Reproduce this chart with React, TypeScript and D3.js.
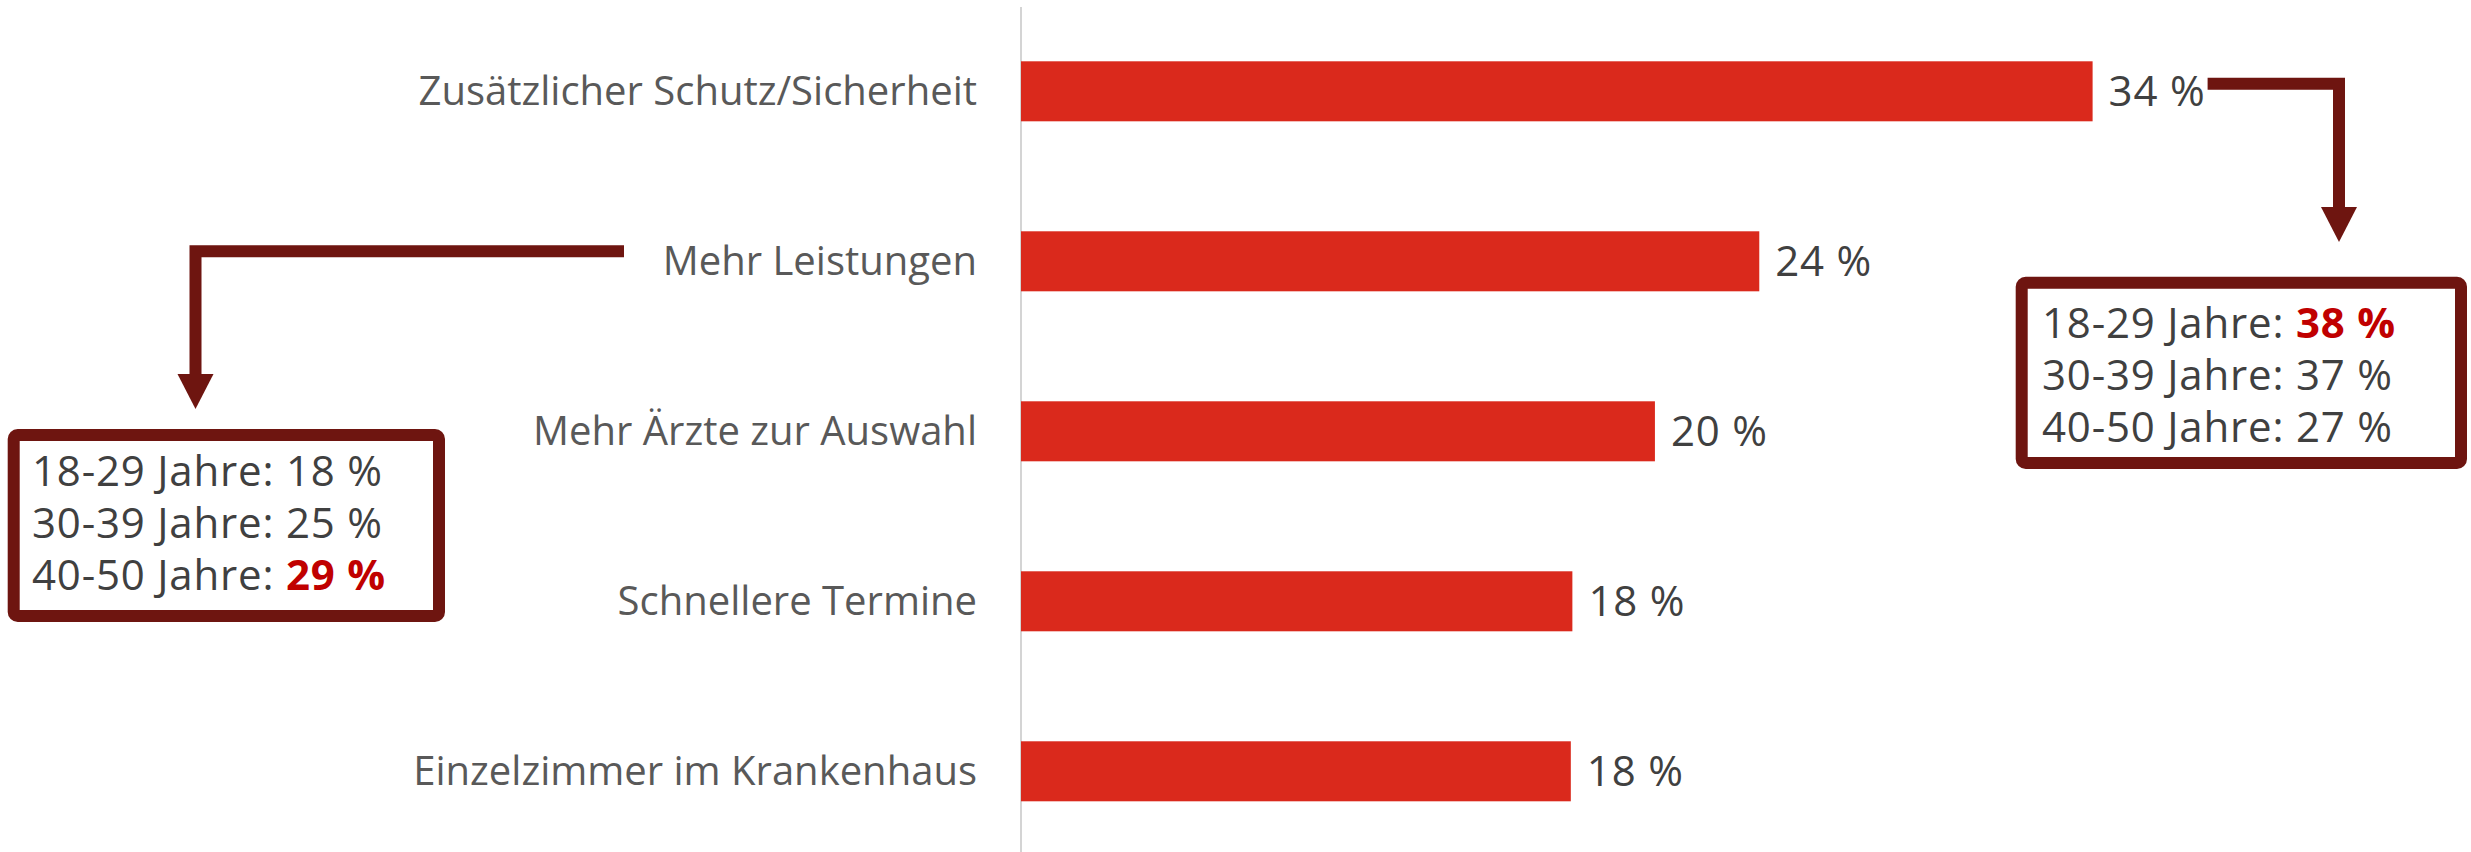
import React from "react";
import { scaleLinear, scaleBand } from "d3";

const categories = [
  "Zusätzlicher Schutz/Sicherheit",
  "Mehr Leistungen",
  "Mehr Ärzte zur Auswahl",
  "Schnellere Termine",
  "Einzelzimmer im Krankenhaus",
];
const values = [34.4, 23.7, 20.35, 17.7, 17.65]; // percent

const ageGroups = ["18-29 Jahre", "30-39 Jahre", "40-50 Jahre"];
const schutzByAge = [38, 37, 27]; // right callout
const leistungenByAge = [18, 25, 29]; // left callout

const W = 2471;
const H = 852;
const axisX = 1021;
const font = "'Open Sans', sans-serif";

const x = scaleLinear().domain([0, 34.4]).range([axisX, 2092.6]);
const y = scaleBand<string>()
  .domain(categories)
  .range([61.3, 801.3])
  .paddingInner(0.647)
  .paddingOuter(0);

const pct = (v: number) => `${Math.round(v)} %`;

const Callout = ({ bx, by, bw, bh, tx, ty, data }: any) => {
  const maxV = Math.max(...data);
  return (
    <g>
      <rect x={bx} y={by} width={bw} height={bh} rx={4} fill="#fff" stroke="#6e1510" strokeWidth={12} />
      {ageGroups.map((g, i) => (
        <text key={g} x={tx} y={ty + i * 52} fontFamily={font} fontSize={42} letterSpacing={0.8} fill="#404040">
          {g}:{" "}
          <tspan fill={data[i] === maxV ? "#c00000" : "#404040"} fontWeight={data[i] === maxV ? 700 : 400}>
            {data[i]} %
          </tspan>
        </text>
      ))}
    </g>
  );
};

export default function App() {
  const c0 = y(categories[0])! + y.bandwidth() / 2;
  const c1 = y(categories[1])! + y.bandwidth() / 2;
  return (
    <svg width={W} height={H} style={{ position: "absolute", left: 0, top: 0, display: "block" }}>
      <rect width={W} height={H} fill="#fff" />
      <line x1={axisX} x2={axisX} y1={7} y2={H} stroke="#d4d4d4" strokeWidth={2} />
      {categories.map((c, i) => {
        const cy = y(c)! + y.bandwidth() / 2;
        return (
          <g key={c}>
            <rect x={x(0)} y={y(c)} width={x(values[i]) - x(0)} height={y.bandwidth()} fill="#da291c" />
            <text x={977} y={cy + 14} textAnchor="end" fontFamily={font} fontSize={40} fill="#595959">
              {c}
            </text>
            <text x={x(values[i]) + 16} y={cy + 15} fontFamily={font} fontSize={42} letterSpacing={0.8} fill="#404040">
              {pct(values[i])}
            </text>
          </g>
        );
      })}

      {/* right callout: Schutz/Sicherheit by age */}
      <path d={`M${x(values[0]) + 115},${c0 - 7.5} H2339 V208`} fill="none" stroke="#6e1510" strokeWidth={12} />
      <polygon points="2321,207 2357,207 2339,242" fill="#6e1510" />
      <Callout bx={2021.7} by={282.7} bw={439.3} bh={180.3} tx={2042} ty={338} data={schutzByAge} />

      {/* left callout: Mehr Leistungen by age */}
      <path d={`M624,${c1 - 10} H195.5 V375`} fill="none" stroke="#6e1510" strokeWidth={12} />
      <polygon points="177.5,374 213.5,374 195.5,409" fill="#6e1510" />
      <Callout bx={13.7} by={435} bw={425.3} bh={181} tx={32} ty={486} data={leistungenByAge} />
    </svg>
  );
}
